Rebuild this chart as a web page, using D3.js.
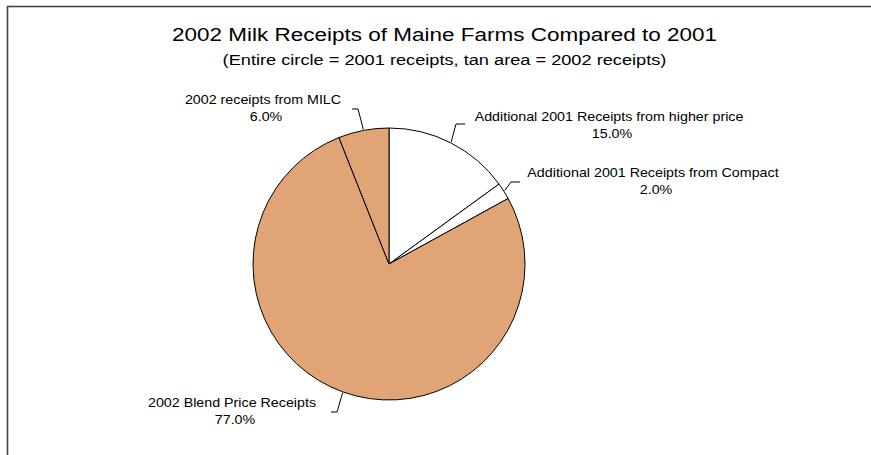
<!DOCTYPE html>
<html>
<head>
<meta charset="utf-8">
<script src="https://cdn.jsdelivr.net/npm/d3@7"></script>
<style>
  html, body { margin: 0; padding: 0; background: #fff; }
  svg { display: block; font-family: Arial, "Liberation Sans", sans-serif; }
</style>
</head>
<body>
<svg id="chart" width="871" height="455"></svg>
<script>
// ---- data ----
const categories = [
  "Additional 2001 Receipts from higher price",
  "Additional 2001 Receipts from Compact",
  "2002 Blend Price Receipts",
  "2002 receipts from MILC"
];
const values = [15.0, 2.0, 77.0, 6.0];
const sliceColors = ["#ffffff", "#ffffff", "#e1a477", "#e1a477"];
const titleText = "2002 Milk Receipts of Maine Farms Compared to 2001";
const subtitleText = "(Entire circle = 2001 receipts, tan area = 2002 receipts)";

// ---- layout ----
const W = 871, H = 455;
const cx = 389, cy = 264, R = 136;
const stretch = 1.19; // horizontal glyph stretch seen in the reference
// label layout: text center & baseline of first line, leader elbow & end
const labelLayout = [
  { tx: 609, ty: 121, elbow: [456, 124], end: [465, 124] },
  { tx: 653, ty: 177, elbow: [511, 182], end: [520, 182] },
  { tx: 232, ty: 407, elbow: [337, 412], end: [331, 412] },
  { tx: 263, ty: 104, elbow: [358, 109], end: [352, 109] }
];

const svg = d3.select("#chart");

function stretchedText(x, y, size, str) {
  return svg.append("text")
    .attr("transform", `translate(${x},${y}) scale(${stretch},1)`)
    .attr("x", 0).attr("y", 0)
    .attr("text-anchor", "middle")
    .attr("font-size", size)
    .attr("fill", "#000")
    .text(str);
}

// frame
svg.append("rect")
  .attr("x", 7.5).attr("y", 6.5)
  .attr("width", 900).attr("height", 470)
  .attr("fill", "none")
  .attr("stroke", "#444")
  .attr("stroke-width", 1.6);

// titles
stretchedText(444.5, 40.5, 18.9, titleText);
stretchedText(444.5, 65, 15.3, subtitleText);

// pie
const pie = d3.pie().sort(null).value(d => d.value).startAngle(0).endAngle(2 * Math.PI);
const data = categories.map((c, i) => ({ name: c, value: values[i], color: sliceColors[i] }));
const arcs = pie(data);
const arc = d3.arc().innerRadius(0).outerRadius(R);

const g = svg.append("g").attr("transform", `translate(${cx},${cy})`);
g.selectAll("path.slice")
  .data(arcs)
  .join("path")
  .attr("class", "slice")
  .attr("d", arc)
  .attr("fill", d => d.data.color)
  .attr("stroke", "#000")
  .attr("stroke-width", 1)
  .attr("stroke-linejoin", "round");

// leader lines and labels
const total = d3.sum(values);
arcs.forEach((a, i) => {
  const mid = (a.startAngle + a.endAngle) / 2;
  const sx = cx + (R + 1) * Math.sin(mid);
  const sy = cy - (R + 1) * Math.cos(mid);
  const L = labelLayout[i];
  svg.append("polyline")
    .attr("points", [[sx, sy], L.elbow, L.end].map(p => p.join(",")).join(" "))
    .attr("fill", "none")
    .attr("stroke", "#000")
    .attr("stroke-width", 1);

  stretchedText(L.tx, L.ty, 12, a.data.name);
  stretchedText(L.tx + 3, L.ty + 16.5, 12, d3.format(".1f")(a.data.value / total * 100) + "%");
});
</script>
</body>
</html>
